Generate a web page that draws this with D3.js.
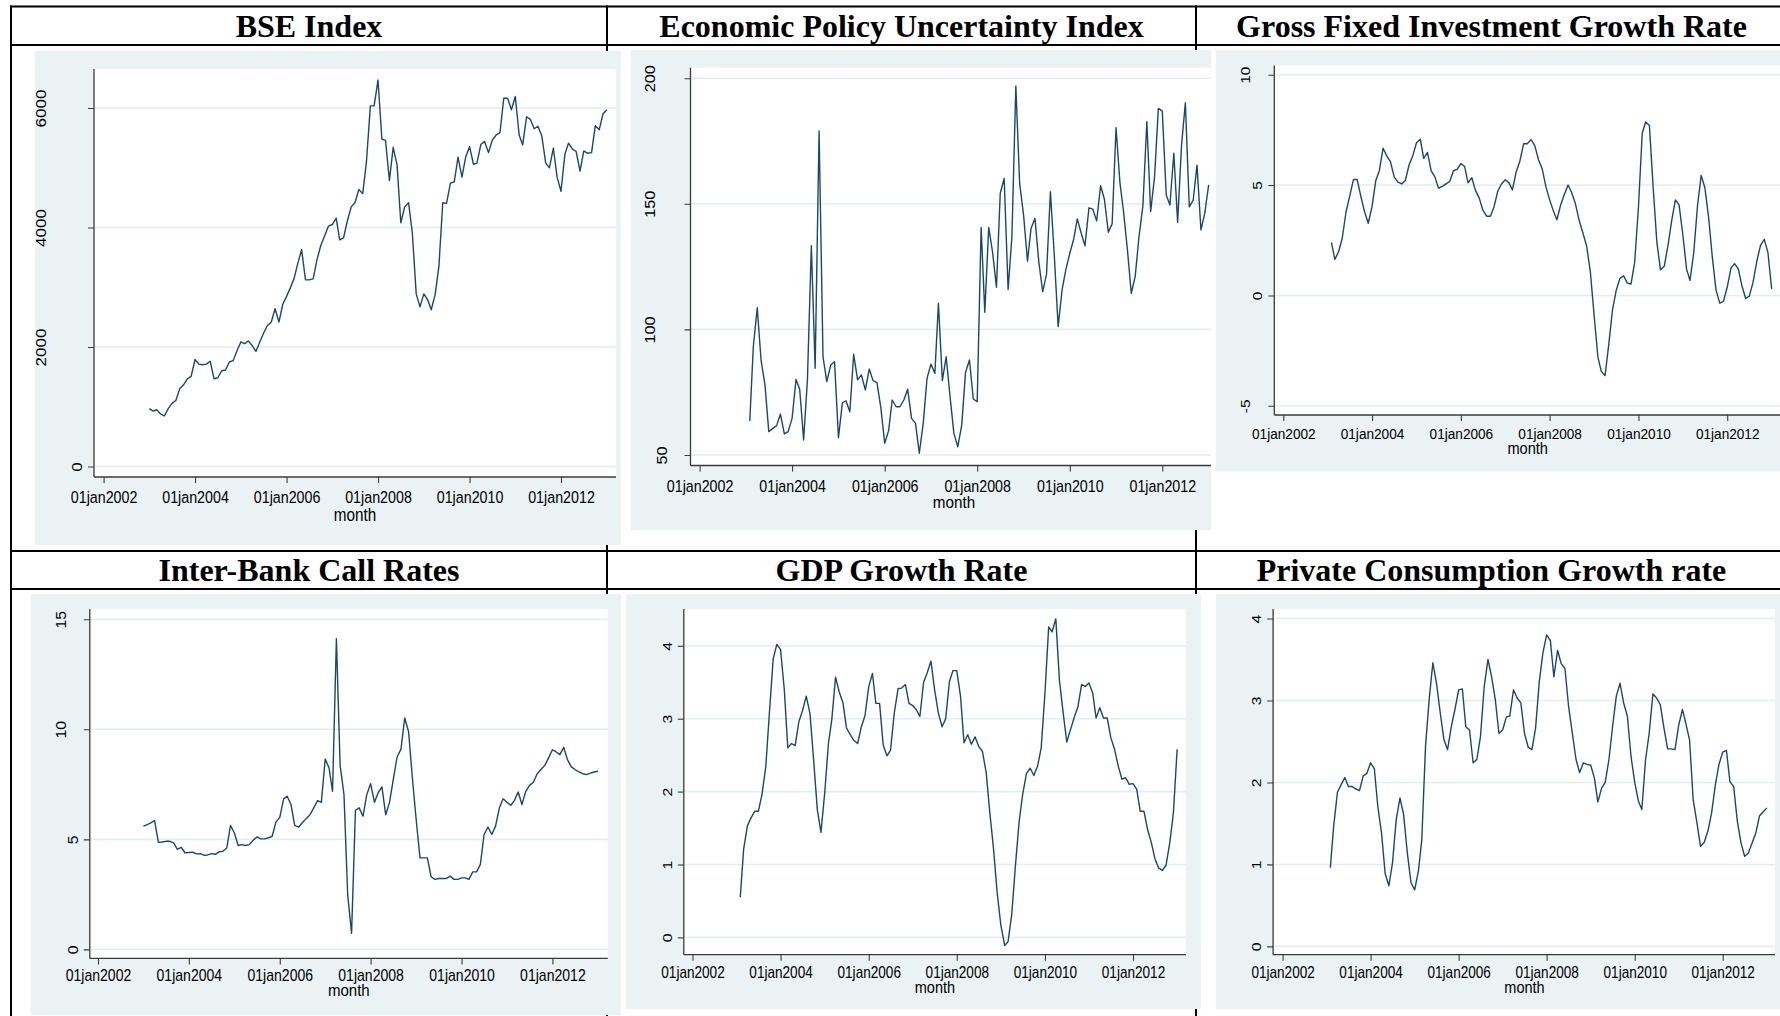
<!DOCTYPE html>
<html>
<head>
<meta charset="utf-8">
<script src="https://cdn.jsdelivr.net/npm/d3@7"></script>
<style>
  body { margin: 0; background: #fff; }
</style>
</head>
<body>
<svg id="chart" width="1780" height="1016"></svg>
<script>
// ---- data ----
const xTickLabels = ['2002-01-01', '2004-01-01', '2006-01-01', '2008-01-01', '2010-01-01', '2012-01-01'];

const bseStart = '2003-01-01';
const bseTicks = [0, 2000, 4000, 6000];
const bseValues = [
  969, 927, 950, 880, 845, 969, 1056, 1104, 1303, 1367, 1468, 1508,
  1791, 1714, 1702, 1714, 1761, 1468, 1485, 1603, 1615, 1749, 1772, 1937,
  2084, 2055, 2102, 2025, 1925, 2084, 2231, 2360, 2418, 2641, 2418, 2711,
  2847, 2994, 3140, 3404, 3628, 3123, 3123, 3140, 3463, 3699, 3863, 4022,
  4050, 4156, 3792, 3828, 4109, 4345, 4415, 4637, 4567, 5108, 6035, 6035,
  6469, 5478, 5459, 4785, 5342, 5048, 4080, 4345, 4415, 3904, 2889, 2671,
  2889, 2788, 2624, 2877, 3346, 4415, 4403, 4743, 4766, 5178, 4843, 5178,
  5354, 5059, 5078, 5389, 5441, 5253, 5459, 5548, 5588, 6164, 6164, 5970,
  6193, 5548, 5382, 5853, 5811, 5653, 5694, 5530, 5078, 5001, 5330, 4843,
  4607, 5225, 5412, 5312, 5272, 4942, 5283, 5242, 5253, 5705, 5635, 5899,
  5970
];

const epuStart = '2003-02-01';
const epuTicks = [50, 100, 150, 200];
const epuValues = [
  63.5, 93.1, 108.6, 87.8, 77.9, 59.3, 60.6, 61.7, 66.3, 58.4, 59.3,
  64.6, 80.1, 76.2, 56, 79.9, 133.3, 84.5, 179, 89.1, 79.2, 85.8, 87.1,
  56.9, 70.8, 71.6, 67.2, 90.1, 79.9, 81.9, 75.9, 84.2, 79.6, 78.8, 69,
  54.7, 59.7, 71.9, 69.2, 69.2, 71.9, 76.2, 64.6, 62.6, 50.7, 62.6, 80.5,
  86.2, 82.5, 110.4, 79.6, 89.1, 73.2, 58.6, 53.3, 61.9, 82.9, 87.8, 72.3,
  71.2, 140.6, 106.8, 140.6, 130.9, 116.8, 154.2, 160.1, 115.9, 136.9, 196.9, 158.2,
  145.5, 127.2, 140.2, 144.2, 127, 115, 121.9, 154.8, 129, 101.1, 115.7, 123.9,
  130.3, 136, 144, 138.3, 133.3, 148.4, 147.9, 143.2, 157.2, 151.8, 138.7, 142,
  180.3, 158.2, 146.9, 131.6, 114.4, 121, 136.9, 149.2, 182.7, 146.9, 160.8, 188,
  186.9, 153.5, 149.5, 170.1, 142.6, 173.4, 190.2, 148.8, 151.5, 165.4, 139.6, 146.2,
  157.5
];

const gfiStart = '2003-02-01';
const gfiTicks = [-5, 0, 5, 10];
const gfiValues = [
  2.40, 1.63, 1.98, 2.59, 3.78, 4.49, 5.25, 5.25, 4.49, 3.78, 3.27,
  4.02, 5.21, 5.65, 6.67, 6.32, 6.05, 5.37, 5.13, 5.05, 5.21, 5.92, 6.32,
  6.92, 7.08, 6.21, 6.48, 5.65, 5.37, 4.86, 4.94, 5.05, 5.16, 5.65, 5.71,
  5.97, 5.84, 5.10, 5.33, 4.76, 4.41, 3.86, 3.59, 3.59, 4.02, 4.73, 5.05,
  5.24, 5.10, 4.78, 5.60, 6.08, 6.87, 6.87, 7.06, 6.79, 6.16, 5.73, 4.94,
  4.33, 3.83, 3.43, 4.10, 4.57, 5.00, 4.65, 4.14, 3.38, 2.83, 2.22, 1.08,
  -0.90, -2.78, -3.44, -3.63, -2.25, -0.67, 0.21, 0.76, 0.89, 0.56, 0.52, 1.51,
  4.02, 7.35, 7.86, 7.70, 4.97, 2.43, 1.16, 1.32, 2.27, 3.38, 4.33, 4.10,
  2.75, 1.19, 0.68, 1.95, 4.02, 5.44, 4.89, 3.54, 1.71, 0.24, -0.35, -0.27,
  0.37, 1.24, 1.44, 1.21, 0.44, -0.14, -0.03, 0.60, 1.56, 2.27, 2.54, 1.95,
  0.29
];

const ibcrStart = '2003-01-01';
const ibcrTicks = [0, 5, 10, 15];
const ibcrValues = [
  5.60, 5.67, 5.75, 5.85, 4.87, 4.88, 4.91, 4.91, 4.84, 4.54, 4.64, 4.39,
  4.40, 4.42, 4.34, 4.35, 4.28, 4.29, 4.35, 4.32, 4.43, 4.46, 4.61, 5.63,
  5.29, 4.72, 4.76, 4.72, 4.76, 4.96, 5.11, 5.02, 5.02, 5.07, 5.14, 5.78,
  6.00, 6.84, 6.96, 6.58, 5.63, 5.55, 5.75, 5.94, 6.12, 6.43, 6.76, 6.68,
  8.65, 8.24, 7.18, 14.11, 8.36, 7.03, 2.46, 0.73, 6.32, 6.43, 6.05, 7.03,
  7.53, 6.68, 7.11, 7.38, 6.12, 6.68, 7.71, 8.74, 9.10, 10.51, 9.90, 7.83,
  5.90, 4.16, 4.16, 4.16, 3.30, 3.18, 3.22, 3.22, 3.22, 3.33, 3.18, 3.18,
  3.25, 3.25, 3.18, 3.52, 3.52, 3.86, 5.22, 5.56, 5.22, 5.60, 6.43, 6.84,
  6.68, 6.55, 6.76, 7.15, 6.58, 7.18, 7.45, 7.59, 7.98, 8.17, 8.36, 8.70,
  9.07, 8.97, 8.85, 9.18, 8.62, 8.29, 8.17, 8.06, 7.98, 7.94, 8.01, 8.06,
  8.09
];

const gdpStart = '2003-02-01';
const gdpTicks = [0, 1, 2, 3, 4];
const gdpValues = [
  0.55, 1.21, 1.53, 1.64, 1.73, 1.73, 1.97, 2.35, 3.09, 3.82, 4.02,
  3.95, 3.40, 2.60, 2.66, 2.63, 2.96, 3.11, 3.31, 3.07, 2.44, 1.75, 1.44,
  1.98, 2.66, 2.99, 3.57, 3.37, 3.22, 2.87, 2.78, 2.70, 2.66, 2.89, 3.04,
  3.44, 3.62, 3.21, 3.21, 2.64, 2.49, 2.57, 3.08, 3.41, 3.42, 3.47, 3.21,
  3.18, 3.12, 3.03, 3.50, 3.63, 3.79, 3.40, 3.08, 2.89, 3.00, 3.51, 3.66,
  3.66, 3.31, 2.67, 2.78, 2.65, 2.75, 2.62, 2.55, 2.26, 1.71, 1.21, 0.61,
  0.16, -0.11, -0.06, 0.32, 0.98, 1.59, 1.97, 2.25, 2.32, 2.22, 2.35, 2.60,
  3.35, 4.26, 4.19, 4.37, 3.53, 3.08, 2.68, 2.85, 3.02, 3.16, 3.47, 3.44,
  3.49, 3.35, 3.01, 3.15, 3.01, 3.01, 2.74, 2.58, 2.35, 2.17, 2.19, 2.10,
  2.11, 2.03, 1.73, 1.73, 1.48, 1.30, 1.08, 0.95, 0.92, 0.99, 1.30, 1.71,
  2.58
];

const pcgrStart = '2003-02-01';
const pcgrTicks = [0, 1, 2, 3, 4];
const pcgrValues = [
  0.96, 1.47, 1.88, 1.97, 2.06, 1.95, 1.95, 1.92, 1.90, 2.08, 2.11,
  2.24, 2.17, 1.71, 1.38, 0.89, 0.74, 1.02, 1.55, 1.81, 1.61, 1.14, 0.78,
  0.69, 0.92, 1.30, 2.44, 3.01, 3.46, 3.21, 2.85, 2.52, 2.40, 2.68, 2.89,
  3.13, 3.14, 2.68, 2.64, 2.24, 2.28, 2.56, 3.17, 3.50, 3.29, 3.01, 2.60,
  2.64, 2.80, 2.81, 3.13, 3.03, 2.97, 2.60, 2.43, 2.40, 2.66, 3.23, 3.58,
  3.80, 3.73, 3.29, 3.61, 3.45, 3.39, 2.93, 2.60, 2.28, 2.12, 2.24, 2.22,
  2.21, 2.05, 1.76, 1.93, 2.00, 2.28, 2.68, 3.05, 3.21, 2.97, 2.81, 2.32,
  2.00, 1.77, 1.67, 2.28, 2.60, 3.08, 3.03, 2.95, 2.66, 2.41, 2.41, 2.40,
  2.70, 2.89, 2.72, 2.52, 1.79, 1.51, 1.22, 1.27, 1.41, 1.63, 1.97, 2.22,
  2.37, 2.39, 2.01, 1.95, 1.53, 1.26, 1.10, 1.14, 1.26, 1.38, 1.59, 1.64,
  1.69
];

// ---- helpers ----
const parseDate = d3.timeParse('%Y-%m-%d');
const tickDates = xTickLabels.map(parseDate);
const fmtDate = d => d3.timeFormat('%d%b%Y')(d).toLowerCase();

function monthly(start, values) {
  const s = parseDate(start);
  return values.map((v, i) => ({ date: d3.timeMonth.offset(s, i), value: v }));
}

const BG = '#eaf2f3';
const GRID = '#e4edef';
const NAVY = '#1a476f';
const AXIS = '#3a3a3a';
const SANS = "'Liberation Sans', Arial, sans-serif";
const SERIF = "'Liberation Serif', 'Times New Roman', serif";

const svg = d3.select('#chart');

// ---- table frame (the graphs sit on top of it) ----
const cols = [11, 607, 1196, 1787];
const rows = [[6.5, 45], [551, 589]];

const frame = svg.append('g').attr('stroke', '#000').attr('stroke-width', 2);
cols.slice(0, 3).forEach(x => {
  frame.append('line').attr('x1', x).attr('x2', x).attr('y1', 5.5).attr('y2', 1016);
});
rows.flat().forEach(y => {
  frame.append('line').attr('x1', 10).attr('x2', 1780).attr('y1', y).attr('y2', y);
});

// ---- panels ----
const panels = [
  { title: 'BSE Index', data: monthly(bseStart, bseValues), ticks: bseTicks, col: 0, row: 0,
    bg: [34.4, 51, 621, 545], plot: [94, 69, 616, 477], xAt: [103.6, 561], yAt: [466.5, 108],
    labelY: 497, monthY: 514.5, monthX: 355, fs: 17, sx: 0.84 },
  { title: 'Economic Policy Uncertainty Index', data: monthly(epuStart, epuValues), ticks: epuTicks, col: 1, row: 0,
    bg: [630.4, 50, 1211, 530], plot: [690.5, 67.7, 1211, 465.5], xAt: [699.6, 1162.3], yAt: [455, 78.2],
    labelY: 485.8, monthY: 501.6, monthX: 954, fs: 16.2, sx: 0.88 },
  { title: 'Gross Fixed Investment Growth Rate', data: monthly(gfiStart, gfiValues), ticks: gfiTicks, col: 2, row: 0,
    bg: [1215.6, 50.2, 1780, 471.8], plot: [1274.3, 65.6, 1780, 415], xAt: [1283.3, 1727.2], yAt: [405.8, 74.7],
    labelY: 433.5, monthY: 447.8, monthX: 1527.7, fs: 15.5, sx: 0.88 },
  { title: 'Inter-Bank Call Rates', data: monthly(ibcrStart, ibcrValues), ticks: ibcrTicks, col: 0, row: 1,
    bg: [30.4, 594, 621, 1015], plot: [89.8, 609, 607.8, 958.4], xAt: [98, 552.4], yAt: [949.4, 619.2],
    labelY: 975.4, monthY: 990.4, monthX: 348.8, fs: 15.8, sx: 0.89 },
  { title: 'GDP Growth Rate', data: monthly(gdpStart, gdpValues), ticks: gdpTicks, col: 1, row: 1,
    bg: [626, 594, 1201, 1009], plot: [683.8, 609, 1186, 954.7], xAt: [692.5, 1133], yAt: [937.4, 645.8],
    labelY: 972.7, monthY: 987, monthX: 934.9, fs: 15.8, sx: 0.86 },
  { title: 'Private Consumption Growth rate', data: monthly(pcgrStart, pcgrValues), ticks: pcgrTicks, col: 2, row: 1,
    bg: [1215.6, 594, 1780, 1009], plot: [1273.1, 609, 1775, 954.7], xAt: [1282.6, 1722.7], yAt: [946.4, 618.5],
    labelY: 972.7, monthY: 987, monthX: 1524.5, fs: 15.8, sx: 0.86 }
];

panels.forEach((p, i) => {
  const [bx0, by0, bx1, by1] = p.bg;
  const [left, top, right, bottom] = p.plot;

  svg.append('clipPath').attr('id', `clip${i}`)
    .append('rect').attr('x', bx0).attr('y', by0).attr('width', bx1 - bx0).attr('height', by1 - by0);

  const g = svg.append('g').attr('clip-path', `url(#clip${i})`);

  g.append('rect')
    .attr('x', bx0).attr('y', by0)
    .attr('width', bx1 - bx0).attr('height', by1 - by0)
    .attr('fill', BG);

  g.append('rect')
    .attr('x', left).attr('y', top)
    .attr('width', right - left).attr('height', bottom - top)
    .attr('fill', '#fff');

  const x = d3.scaleTime()
    .domain([tickDates[0], tickDates[tickDates.length - 1]])
    .range(p.xAt);

  const y = d3.scaleLinear()
    .domain([p.ticks[0], p.ticks[p.ticks.length - 1]])
    .range(p.yAt);

  // grid lines
  g.selectAll('.grid')
    .data(p.ticks)
    .enter()
    .append('line')
    .attr('x1', left + 1).attr('x2', right)
    .attr('y1', d => y(d)).attr('y2', d => y(d))
    .attr('stroke', GRID)
    .attr('stroke-width', 1.6);

  // series
  g.append('path')
    .datum(p.data)
    .attr('fill', 'none')
    .attr('stroke', NAVY)
    .attr('stroke-width', 1.4)
    .attr('stroke-linejoin', 'round')
    .attr('d', d3.line().x(d => x(d.date)).y(d => y(d.value)));

  // x axis
  const xAxis = g.append('g')
    .attr('transform', `translate(0, ${bottom})`)
    .call(d3.axisBottom(x).tickValues(tickDates).tickFormat(fmtDate).tickSize(6).tickSizeOuter(0));
  xAxis.select('.domain').remove();
  xAxis.selectAll('line').attr('stroke', AXIS).attr('stroke-width', 1.1);
  xAxis.selectAll('text')
    .attr('y', p.labelY - bottom)
    .attr('dy', '0.36em')
    .attr('transform', `scale(${p.sx}, 1)`)
    .attr('font-family', SANS)
    .attr('font-size', p.fs)
    .attr('fill', '#000');
  g.append('line')
    .attr('x1', left).attr('x2', right)
    .attr('y1', bottom).attr('y2', bottom)
    .attr('stroke', AXIS).attr('stroke-width', 1.3);

  // y axis, labels turned like the original
  const yAxis = g.append('g')
    .attr('transform', `translate(${left}, 0)`)
    .call(d3.axisLeft(y).tickValues(p.ticks).tickFormat(d => String(d)).tickSize(6).tickSizeOuter(0));
  yAxis.select('.domain').remove();
  yAxis.selectAll('line').attr('stroke', AXIS).attr('stroke-width', 1.1);
  yAxis.selectAll('text')
    .attr('x', 0)
    .attr('dy', '0.36em')
    .attr('text-anchor', 'middle')
    .attr('transform', d => `translate(${-(17 + 12 * (String(d).length - 1))}, 0) rotate(-90) scale(1, ${p.sx})`)
    .attr('font-family', SANS)
    .attr('font-size', p.fs)
    .attr('fill', '#000');
  g.append('line')
    .attr('x1', left).attr('x2', left)
    .attr('y1', top).attr('y2', bottom)
    .attr('stroke', AXIS).attr('stroke-width', 1.3);

  // axis title
  g.append('text')
    .attr('transform', `translate(${p.monthX}, ${p.monthY}) scale(${p.sx}, 1)`)
    .attr('dy', '0.36em')
    .attr('text-anchor', 'middle')
    .attr('font-family', SANS)
    .attr('font-size', p.fs * 1.07)
    .attr('fill', '#000')
    .text('month');

  // cell title
  const [ry0, ry1] = rows[p.row];
  svg.append('text')
    .attr('x', (cols[p.col] + cols[p.col + 1]) / 2)
    .attr('y', (ry0 + ry1) / 2 + 10.8)
    .attr('text-anchor', 'middle')
    .attr('font-family', SERIF)
    .attr('font-weight', 'bold')
    .attr('font-size', 32)
    .attr('fill', '#000')
    .text(p.title);
});

// cut-off y title peeking out left of the call-rate graph
svg.append('clipPath').attr('id', 'clipStub')
  .append('rect').attr('x', 24.5).attr('y', 740).attr('width', 5).attr('height', 80);
svg.append('text')
  .attr('clip-path', 'url(#clipStub)')
  .attr('transform', 'translate(28.5, 784) rotate(-90) scale(1, 0.87)')
  .attr('text-anchor', 'middle')
  .attr('font-family', SANS)
  .attr('font-size', 15.5)
  .attr('fill', '#333')
  .text('ibcr');
</script>
</body>
</html>
